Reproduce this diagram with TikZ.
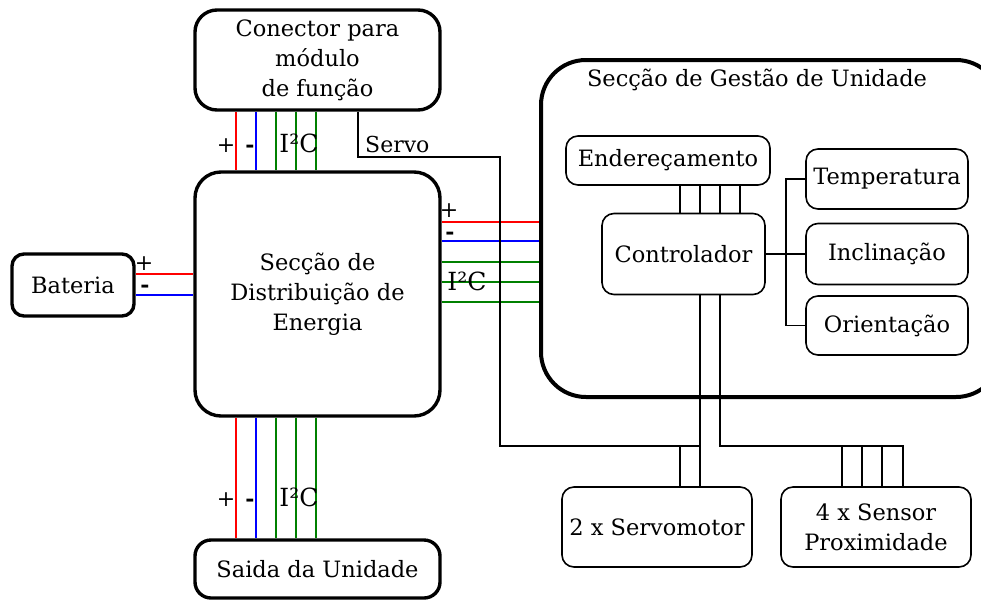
\documentclass[tikz,border=0pt]{standalone}
\usepackage{fontspec}
\setmainfont{DejaVu Serif}
\usepackage{tikz}

\tikzset{
  bigbox/.style={draw, line width=3.4pt, rounded corners=22pt, align=center, inner sep=0pt},
  smallbox/.style={draw, line width=1.6pt, rounded corners=12pt, align=center, inner sep=0pt},
  wire/.style={line width=1.6pt},
  redw/.style={wire, red},
  bluew/.style={wire, blue},
  greenw/.style={wire, green!50!black},
  lbl/.style={inner sep=0pt, text height=0.7em, text depth=0pt, font=\fontsize{22}{24}\selectfont},
  minus/.style={lbl, font=\fontsize{22}{24}\bfseries},
  bus/.style={lbl, font=\fontsize{25}{26}\selectfont}
}

\begin{document}
\begin{tikzpicture}[x=1pt, y=-1pt, font=\fontsize{22.5}{30}\selectfont]
    \useasboundingbox (0,0) rectangle (981,600);

    % Energy side boxes
    \node[bigbox, minimum width=245pt, minimum height=100pt] (conector) at (317.5,60) {Conector para\\módulo\\de função};
    \node[bigbox, minimum width=245pt, minimum height=244pt, rounded corners=26pt] (distrib) at (317.5,294) {Secção de\\Distribuição de\\Energia};
    \node[bigbox, minimum width=122pt, minimum height=62pt, rounded corners=12pt] (bateria) at (73,285) {Bateria};
    \node[bigbox, minimum width=245pt, minimum height=58pt, rounded corners=16pt] (saida) at (317.5,569) {Saida da Unidade};

    % Unit management section
    \node[draw, line width=4pt, rounded corners=45pt, minimum width=460pt, minimum height=337pt, inner sep=0pt] (gestao) at (771,228.5) {};
    \node[inner sep=0pt] (titulo) at (757,80) {Secção de Gestão de Unidade};
    \node[smallbox, minimum width=204pt, minimum height=49pt] (ender) at (668,160.5) {Endereçamento};
    \node[smallbox, minimum width=163pt, minimum height=81pt] (ctrl) at (683.5,254) {Controlador};
    \node[smallbox, minimum width=162pt, minimum height=60pt] (temp) at (887,179) {Temperatura};
    \node[smallbox, minimum width=162pt, minimum height=61pt] (incl) at (887,254) {Inclinação};
    \node[smallbox, minimum width=162pt, minimum height=59pt] (orient) at (887,325.5) {Orientação};

    % Outputs
    \node[smallbox, minimum width=190pt, minimum height=80pt] (servo) at (657,527) {2 x Servomotor};
    \node[smallbox, minimum width=190pt, minimum height=80pt] (sensor) at (876,527) {4 x Sensor\\Proximidade};

    % Battery wires
    \draw[redw] (bateria.east |- 0,274) -- (distrib.west |- 0,274);
    \draw[bluew] (bateria.east |- 0,295) -- (distrib.west |- 0,295);
    \node[lbl] (bp) at (144,267) {+};
    \node[minus] (bm) at (145,289) {-};

    % Function module wires
    \draw[redw] (conector.south -| 236,0) -- (distrib.north -| 236,0);
    \draw[bluew] (conector.south -| 256,0) -- (distrib.north -| 256,0);
    \foreach \x in {276,296,316}
        \draw[greenw] (conector.south -| \x,0) -- (distrib.north -| \x,0);
    \node[lbl] (tp) at (226,149) {+};
    \node[minus] (tm) at (250,149) {-};
    \node[bus] (ti) at (299,149) {I²C};

    % Output wires
    \draw[redw] (distrib.south -| 236,0) -- (saida.north -| 236,0);
    \draw[bluew] (distrib.south -| 256,0) -- (saida.north -| 256,0);
    \foreach \x in {276,296,316}
        \draw[greenw] (distrib.south -| \x,0) -- (saida.north -| \x,0);
    \node[lbl] (bp2) at (226,503) {+};
    \node[minus] (bm2) at (250,503) {-};
    \node[bus] (bi) at (299,503) {I²C};

    % Management wires
    \draw[redw] (distrib.east |- 0,222) -- (gestao.west |- 0,222);
    \draw[bluew] (distrib.east |- 0,241) -- (gestao.west |- 0,241);
    \foreach \y in {262,282,302}
        \draw[greenw] (distrib.east |- 0,\y) -- (gestao.west |- 0,\y);
    \node[lbl] (rp) at (449,214) {+};
    \node[minus] (rm) at (450,236) {-};
    \node[bus] (ri) at (467,287) {I²C};

    % Servo line
    \coordinate (sj) at (700,446);
    \draw[wire] (conector.south -| 358,0) |- (500,157) -- (500,446) -- (sj);
    \node[lbl, anchor=west] (sv) at (365,149) {Servo};
    \draw[wire] (ctrl.south -| 700,0) -- (servo.north -| 700,0);
    \draw[wire] (680,446) -- (servo.north -| 680,0);

    % Sensor lines
    \draw[wire] (ctrl.south -| 720,0) |- (903,446) -- (sensor.north -| 903,0);
    \foreach \x in {842,862,882}
        \draw[wire] (\x,446) -- (sensor.north -| \x,0);

    % Controller links
    \foreach \x in {680,700,720,740}
        \draw[wire] (ender.south -| \x,0) -- (ctrl.north -| \x,0);
    \draw[wire] (ctrl.east) -- (incl.west);
    \draw[wire] (temp.west) -| (786,254) |- (orient.west);
\end{tikzpicture}
\end{document}
